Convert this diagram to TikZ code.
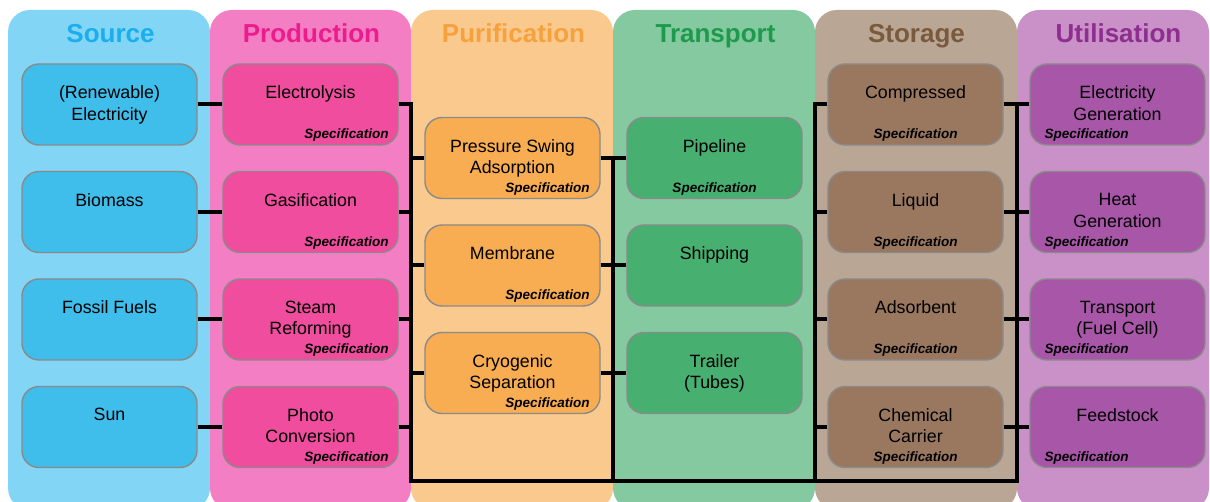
\documentclass[tikz,border=0pt]{standalone}
\usepackage{fontspec}
\setmainfont{Liberation Sans}
\def\W{175}
\def\H{81}
\def\R{107.5}
\definecolor{pansrc}{HTML}{83D5F6}
\definecolor{boxsrc}{HTML}{3FBEEC}
\definecolor{ttlsrc}{HTML}{1AAEEE}
\definecolor{panprd}{HTML}{F47EC3}
\definecolor{boxprd}{HTML}{F04D9F}
\definecolor{ttlprd}{HTML}{EC1C8C}
\definecolor{panpur}{HTML}{FAC98E}
\definecolor{boxpur}{HTML}{F8AD52}
\definecolor{ttlpur}{HTML}{F7A13C}
\definecolor{pantrn}{HTML}{85C9A0}
\definecolor{boxtrn}{HTML}{47AF70}
\definecolor{ttltrn}{HTML}{1E9A4C}
\definecolor{pansto}{HTML}{BAA695}
\definecolor{boxsto}{HTML}{9A7860}
\definecolor{ttlsto}{HTML}{7A5A3C}
\definecolor{panuti}{HTML}{CA90C8}
\definecolor{boxuti}{HTML}{A856A8}
\definecolor{ttluti}{HTML}{8E2E8E}
\definecolor{boxline}{HTML}{8A8A8A}

\begin{document}
\begin{tikzpicture}[x=1pt,y=-1pt,
  stagebox/.style={draw=boxline,line width=1.4pt,rounded corners=17pt,
    minimum width=\W pt,minimum height=\H pt,inner sep=0pt},
  boxtext/.style={anchor=north,align=center,inner sep=0pt,
    font=\fontsize{17.8}{21.5}\selectfont},
  spectext/.style={inner sep=0pt,font=\fontsize{13.5}{16}\selectfont\bfseries\itshape},
  paneltitle/.style={anchor=base,inner sep=0pt,font=\fontsize{26}{30}\selectfont\bfseries},
  wire/.style={line width=4pt}]
\useasboundingbox (0,0) rectangle (1210,502);
\clip (0,0) rectangle (1210,502);
\fill[white] (0,0) rectangle (1210,502);
\foreach \l/\r/\m/\c/\t in {8/210/109.5/src/Source,210/411/310.5/prd/Production,
    411/613/512.5/pur/Purification,613/815/714.5/trn/Transport,
    815/1017/915.5/sto/Storage,1017/1209/1117.5/uti/Utilisation}{
  \fill[pan\c,rounded corners=22pt] (\l,10) rectangle (\r,510);
  \node[paneltitle,text=ttl\c] (title\c) at (\m+1,43) {\t};
}
\foreach \t [count=\i] in {{(Renewable)\\Electricity},Biomass,{Fossil Fuels},Sun}{
  \node[stagebox,fill=boxsrc] (src\i) at (109.5,{104.5+\R*(\i-1)}) {};
  \node[boxtext] (srctxt\i) at ([yshift=-22.5pt]src\i.north) {\t};
}
\foreach \t [count=\i] in {Electrolysis,Gasification,{Steam\\Reforming},{Photo\\Conversion}}{
  \node[stagebox,fill=boxprd] (prd\i) at (310.5,{104.5+\R*(\i-1)}) {};
  \node[boxtext] (prdtxt\i) at ([yshift=-22.5pt]prd\i.north) {\t};
  \node[spectext,anchor=base east] (prdspec\i) at ([shift={(-10pt,7pt)}]prd\i.south east) {Specification};
}
\foreach \t [count=\i] in {{Pressure Swing\\Adsorption},Membrane,{Cryogenic\\Separation}}{
  \node[stagebox,fill=boxpur] (pur\i) at (512.5,{158+\R*(\i-1)}) {};
  \node[boxtext] (purtxt\i) at ([yshift=-22.5pt]pur\i.north) {\t};
  \node[spectext,anchor=base east] (purspec\i) at ([shift={(-11pt,7pt)}]pur\i.south east) {Specification};
}
\foreach \t [count=\i] in {Pipeline,Shipping,{Trailer\\(Tubes)}}{
  \node[stagebox,fill=boxtrn] (trn\i) at (714.5,{158+\R*(\i-1)}) {};
  \node[boxtext] (trntxt\i) at ([yshift=-22.5pt]trn\i.north) {\t};
}
\node[spectext,anchor=base] (trnspec1) at ([yshift=7pt]trn1.south) {Specification};
\foreach \t [count=\i] in {Compressed,Liquid,Adsorbent,{Chemical\\Carrier}}{
  \node[stagebox,fill=boxsto] (sto\i) at (915.5,{104.5+\R*(\i-1)}) {};
  \node[boxtext] (stotxt\i) at ([yshift=-22.5pt]sto\i.north) {\t};
  \node[spectext,anchor=base] (stospec\i) at ([yshift=7pt]sto\i.south) {Specification};
}
\foreach \t [count=\i] in {{Electricity\\Generation},{Heat\\Generation},{Transport\\(Fuel Cell)},Feedstock}{
  \node[stagebox,fill=boxuti] (uti\i) at (1117.5,{104.5+\R*(\i-1)}) {};
  \node[boxtext] (utitxt\i) at ([yshift=-22.5pt]uti\i.north) {\t};
  \node[spectext,anchor=base west] (utispec\i) at ([shift={(15pt,7pt)}]uti\i.south west) {Specification};
}
\coordinate (busprd) at (411,481);
\coordinate (bustrn) at (613,481);
\coordinate (bussto) at (815,481);
\coordinate (busuti) at (1017,481);
\draw[wire] (prd1.east) -| (busprd) -- (busuti) |- (uti1.west);
\draw[wire] (pur1.east) -| (bustrn);
\draw[wire] (sto1.west) -| (bussto);
\foreach \i in {1,...,4}{
  \draw[wire] (src\i.east) -- (prd\i.west);
  \draw[wire] (prd\i.east) -- (prd\i.east -| busprd);
  \draw[wire] (sto\i.west) -- (sto\i.west -| bussto);
  \draw[wire] (sto\i.east) -- (uti\i.west);
}
\foreach \i in {1,2,3}{
  \draw[wire] (pur\i.west) -- (pur\i.west -| busprd);
  \draw[wire] (pur\i.east) -- (trn\i.west);
}
\end{tikzpicture}
\end{document}
